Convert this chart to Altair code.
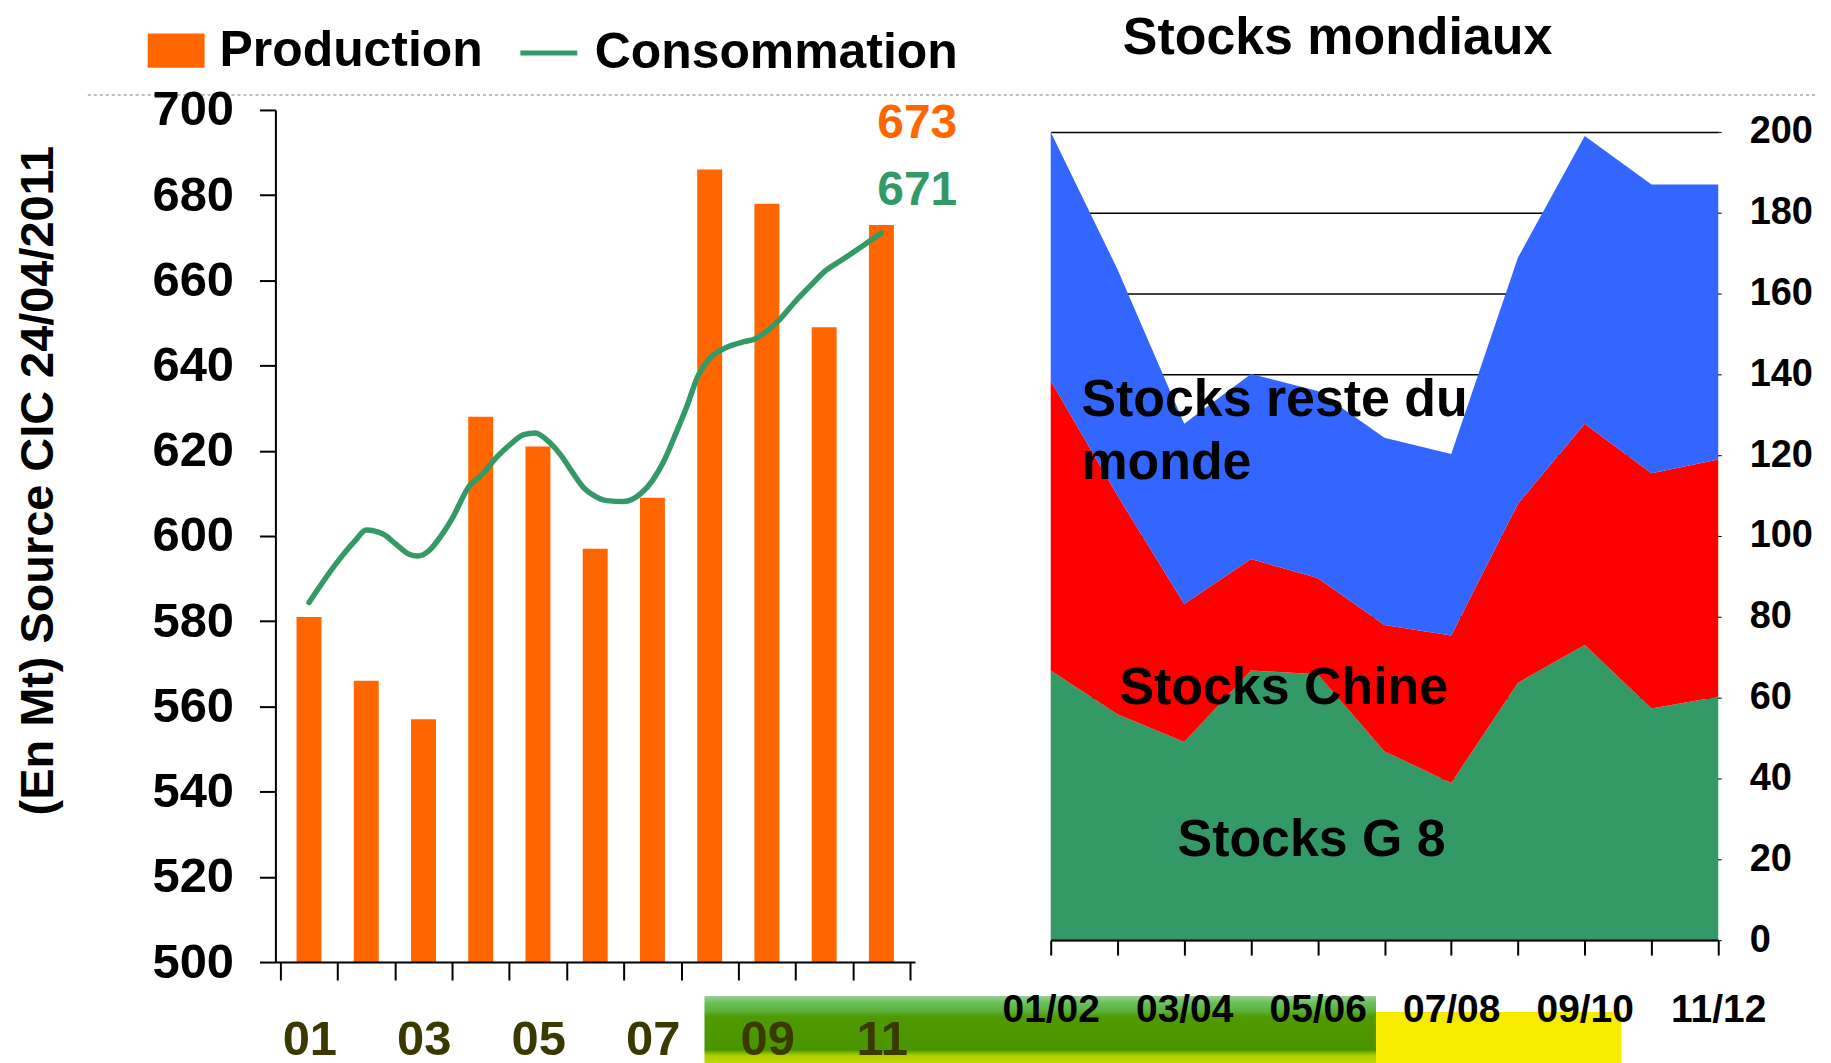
import json
import altair as alt
import pandas as pd

# ---------------- data ----------------
years = ["01", "02", "03", "04", "05", "06", "07", "08", "09", "10", "11"]
production = [581, 566, 557, 628, 621, 597, 609, 686, 678, 649, 673]

# consumption curve (position in year index)
cons_pos = [0, 0.5, 0.8, 1.0, 1.3, 1.5, 1.75, 1.9, 2.1, 2.3, 2.5, 2.8, 3.0, 3.3, 3.5,
            3.75, 3.95, 4.2, 4.4, 4.6, 4.8, 5.0, 5.2, 5.5, 5.8, 6.0, 6.2, 6.4, 6.6,
            6.8, 7.0, 7.3, 7.6, 7.8, 8.0, 8.2, 8.5, 8.8, 9.0, 9.3, 9.6, 10.0]
cons_val = [584.4, 594.0, 598.8, 601.4, 600.4, 598.3, 595.7, 595.3, 596.6, 599.9,
            604.1, 611.7, 614.1, 618.8, 621.3, 623.8, 624.2, 622.0, 619.0, 615.0,
            611.3, 609.3, 608.3, 608.1, 610.0, 613.0, 617.6, 623.8, 630.4, 637.7,
            641.7, 644.3, 645.6, 646.3, 648.1, 650.5, 655.1, 659.3, 662.0, 664.7,
            667.4, 671.1]

seasons = ["01/02", "02/03", "03/04", "04/05", "05/06", "06/07",
           "07/08", "08/09", "09/10", "10/11", "11/12"]
stocks_g8 = [66.7, 55.9, 49.0, 66.7, 65.8, 46.7, 38.9, 63.7, 73.0, 57.3, 60.2]
stocks_chine = [71.7, 54.1, 34.2, 27.6, 23.8, 31.3, 36.5, 44.3, 54.8, 58.2, 58.7]
stocks_reste = [61.6, 56.0, 44.6, 45.8, 46.3, 46.3, 44.9, 60.9, 71.2, 71.5, 68.1]
layer_names = ["Stocks G 8", "Stocks Chine", "Stocks reste du monde"]
layer_colors = ["#339966", "#FF0000", "#3366FF"]

# in-chart annotations (season index, stock value)
ann_text = ["Stocks reste du", "monde", "Stocks Chine"]
ann_idx = [0.46, 0.46, 1.03]
ann_val = [133.6, 118.0, 62.5]
g8_text = ["Stocks G 8"]
g8_idx = [1.90]
g8_val = [24.7]

FONT = "Liberation Sans, Arial, sans-serif"

# ---------------- left chart ----------------
left_df = pd.DataFrame({"i": list(range(len(years))), "year": years,
                        "prod": production, "serie": "Production"})
cons_df = pd.DataFrame({"t": cons_pos, "v": cons_val, "serie": "Consommation"})

LW, LH = 641, 854
x_left = alt.Scale(domain=[-0.5, len(years) - 0.5], nice=False, zero=False)
y_left = alt.Scale(domain=[500, 700], nice=False, zero=False)

shown_years = years[::2]
x_left_expr = ("(round(datum.value + 0.5) % 2 === 0) ? (" + json.dumps(shown_years) +
               "[round(datum.value + 0.5) / 2] || '') : ''")

x_left_axis = alt.Axis(values=[k - 0.5 for k in range(len(years) + 1)],
                       labelExpr=x_left_expr, labelOffset=29, title=None, grid=False,
                       tickSize=18, tickWidth=2, tickColor="black",
                       domainColor="black", domainWidth=2,
                       labelFont=FONT, labelFontSize=49, labelFontWeight="bold",
                       labelColor="#3a3a00", labelPadding=36, labelBaseline="top",
                       labelOverlap=False, labelFlush=False, zindex=1)
y_left_axis = alt.Axis(values=list(range(500, 701, 20)),
                       title="(En Mt) Source CIC 24/04/2011",
                       titleFont=FONT, titleFontSize=47, titleFontWeight="bold",
                       titleColor="black", titleX=-223, titleY=371, titleAngle=270,
                       titleAlign="center", titleBaseline="alphabetic",
                       labelFont=FONT, labelFontSize=49, labelFontWeight="bold",
                       labelColor="black", labelPadding=26,
                       tickSize=16, tickWidth=2, tickColor="black",
                       domainColor="black", domainWidth=2, grid=False,
                       labelOverlap=False, labelFlush=False, zindex=1)

green_grad = alt.LinearGradient(
    gradient="linear", x1=0, x2=0, y1=0, y2=1,
    stops=[alt.GradientStop(color="#9ccc98", offset=0),
           alt.GradientStop(color="#68c257", offset=0.1),
           alt.GradientStop(color="#5bb03a", offset=0.22),
           alt.GradientStop(color="#4f9b03", offset=0.3),
           alt.GradientStop(color="#4a9400", offset=0.78),
           alt.GradientStop(color="#a9cc00", offset=0.86),
           alt.GradientStop(color="#c8dc00", offset=1)])
one = pd.DataFrame({"k": [0]})
banner_green = alt.Chart(one).mark_rect(fill=green_grad).encode(
    x=alt.value(430), x2=alt.value(1103), y=alt.value(888), y2=alt.value(957))
banner_yellow = alt.Chart(one).mark_rect(fill="#f7ec00").encode(
    x=alt.value(1103), x2=alt.value(1349), y=alt.value(904), y2=alt.value(957))
dotted = alt.Chart(one).mark_rule(color="#bdbdbd", strokeWidth=2, strokeDash=[3, 3]).encode(
    x=alt.value(-188), x2=alt.value(1545), y=alt.value(-15))

bars = alt.Chart(left_df).mark_bar(size=25).encode(
    x=alt.X("i:Q", scale=x_left, axis=x_left_axis),
    y=alt.Y("prod:Q", scale=y_left, axis=y_left_axis),
    y2=alt.Y2Datum(500),
    fill=alt.Fill("serie:N", scale=alt.Scale(domain=["Production"], range=["#FF6600"]),
                  legend=alt.Legend(title=None, orient="none", legendX=-128, legendY=-88,
                                    symbolType="M-1,-0.6L1,-0.6L1,0.6L-1,0.6Z",
                                    symbolSize=3249, symbolStrokeWidth=0,
                                    labelFont=FONT, labelFontSize=50,
                                    labelFontWeight="bold", labelColor="black",
                                    labelOffset=15, labelLimit=800, padding=0)),
)

line = alt.Chart(cons_df).mark_line(strokeWidth=5.5, interpolate="monotone",
                                    strokeCap="round").encode(
    x=alt.X("t:Q", scale=x_left, axis=x_left_axis),
    y=alt.Y("v:Q", scale=y_left, axis=y_left_axis),
    stroke=alt.Stroke("serie:N",
                      scale=alt.Scale(domain=["Consommation"], range=["#339966"]),
                      legend=alt.Legend(title=None, orient="none", legendX=243, legendY=-88,
                                        symbolType="stroke", symbolSize=3249,
                                        symbolStrokeWidth=5,
                                        labelFont=FONT, labelFontSize=50,
                                        labelFontWeight="bold", labelColor="black",
                                        labelOffset=15, labelLimit=800, padding=0)),
)

prod_label = alt.Chart(left_df).transform_filter(
    alt.datum.i == len(years) - 1
).mark_text(align="right", baseline="middle", dx=76, dy=-101, font=FONT,
            fontSize=48, fontWeight="bold", color="#FF6600").encode(
    x=alt.X("i:Q", scale=x_left, axis=x_left_axis),
    y=alt.Y("prod:Q", scale=y_left, axis=y_left_axis),
    text=alt.Text("prod:Q", format=".0f"))

cons_label = alt.Chart(cons_df).transform_filter(
    alt.datum.t == len(years) - 1
).mark_text(align="right", baseline="middle", dx=76, dy=-42, font=FONT,
            fontSize=48, fontWeight="bold", color="#339966").encode(
    x=alt.X("t:Q", scale=x_left, axis=x_left_axis),
    y=alt.Y("v:Q", scale=y_left, axis=y_left_axis),
    text=alt.Text("v:Q", format=".0f"))

left = alt.layer(banner_green, banner_yellow, dotted, bars, line, prod_label,
                 cons_label).properties(width=LW, height=LH)

# ---------------- right chart ----------------
rows = []
for k in range(len(seasons)):
    vals = [stocks_g8[k], stocks_chine[k], stocks_reste[k]]
    lo = 0.0
    for name, v in zip(layer_names, vals):
        rows.append({"idx": k, "season": seasons[k], "layer": name,
                     "lo": lo, "hi": lo + v})
        lo += v
rdf = pd.DataFrame(rows)

RW, RH = 669, 854
x_right = alt.Scale(domain=[0, len(seasons) - 1], nice=False, zero=False)
y_right = alt.Scale(domain=[-5.43, 205.43], nice=False, zero=False)

x_right_expr = "datum.value % 2 === 0 ? " + json.dumps(seasons) + "[datum.value] : ''"
x_right_axis = alt.Axis(values=list(range(len(seasons))), labelExpr=x_right_expr,
                        offset=-22, title=None, grid=False,
                        tickSize=15, tickWidth=2, tickColor="black",
                        domainColor="black", domainWidth=2,
                        labelFont=FONT, labelFontSize=39, labelFontWeight="bold",
                        labelColor="black", labelPadding=36, labelBaseline="top",
                        labelOverlap=False, labelFlush=False, zindex=1)
y_right_axis = alt.Axis(orient="right", values=list(range(0, 201, 20)), title=None,
                        grid=True, gridColor="black", gridWidth=1.5, gridOpacity=1,
                        domain=False, tickSize=3, tickColor="black", tickWidth=1,
                        labelFont=FONT, labelFontSize=38, labelFontWeight="bold",
                        labelColor="black", labelPadding=28, labelAlign="left",
                        labelOverlap=False, labelFlush=False)

areas = alt.Chart(rdf).mark_area(opacity=1).encode(
    x=alt.X("idx:Q", scale=x_right, axis=x_right_axis),
    y=alt.Y("hi:Q", scale=y_right, axis=y_right_axis),
    y2="lo:Q",
    color=alt.Color("layer:N", scale=alt.Scale(domain=layer_names, range=layer_colors),
                    legend=None),
)

ann_df = pd.DataFrame({"idx": ann_idx, "val": ann_val, "txt": ann_text})
ann = alt.Chart(ann_df).mark_text(align="left", baseline="middle", font=FONT,
                                  fontSize=52, fontWeight="bold", color="black").encode(
    x=alt.X("idx:Q", scale=x_right, axis=x_right_axis),
    y=alt.Y("val:Q", scale=y_right, axis=y_right_axis),
    text="txt:N")
g8_df = pd.DataFrame({"idx": g8_idx, "val": g8_val, "txt": g8_text})
g8_ann = alt.Chart(g8_df).mark_text(align="left", baseline="middle", font=FONT,
                                    fontSize=52, fontWeight="bold", color="black").encode(
    x=alt.X("idx:Q", scale=x_right, axis=x_right_axis),
    y=alt.Y("val:Q", scale=y_right, axis=y_right_axis),
    text="txt:N")

right = alt.layer(areas, ann, g8_ann).properties(
    width=RW, height=RH,
    title=alt.TitleParams("Stocks mondiaux", font=FONT, fontSize=52, fontWeight="bold",
                          color="black", anchor="middle", dx=-47, frame="group",
                          baseline="alphabetic", offset=4))

chart = alt.hconcat(left, right, spacing=136, bounds="flush").resolve_scale(
    x="independent", y="independent", color="independent",
    fill="independent", stroke="independent"
).properties(
    padding={"left": 7, "top": 3, "right": 5, "bottom": 0},
    background="white",
).configure_view(strokeWidth=0)

chart.save("out.html", embed_options={"renderer": "svg", "actions": False})
